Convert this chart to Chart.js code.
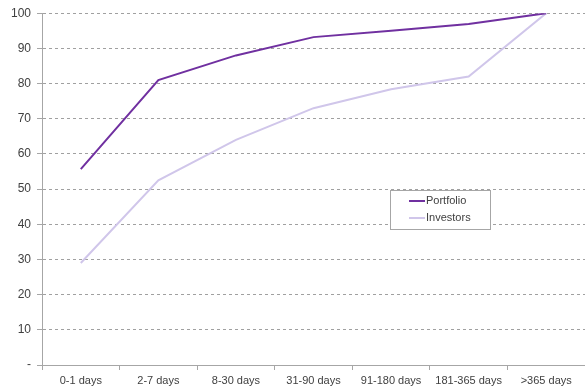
<!DOCTYPE html>
<html>
<head>
<meta charset="utf-8">
<script src="https://cdn.jsdelivr.net/npm/chart.js@4/dist/chart.umd.min.js"></script>
<style>
  html, body { margin: 0; padding: 0; background: #fff; }
  #wrap { width: 585px; height: 390px; position: relative; }
</style>
</head>
<body>
<div id="wrap"><canvas id="c"></canvas></div>
<script>
const categories = ['0-1 days', '2-7 days', '8-30 days', '31-90 days', '91-180 days', '181-365 days', '>365 days'];
const portfolio = [55.7, 81, 88, 93.2, 95, 96.9, 100];
const investors = [29, 52.5, 64, 73, 78.4, 82, 100];
const yTicks = [0, 10, 20, 30, 40, 50, 60, 70, 80, 90, 100];

const boxLegend = {
  id: 'boxLegend',
  afterDraw(chart) {
    const ctx = chart.ctx;
    const x = 390, y = 190, w = 100, h = 39;
    ctx.save();
    ctx.fillStyle = '#fff';
    ctx.fillRect(x, y, w, h);
    ctx.strokeStyle = '#a6a6a6';
    ctx.lineWidth = 1;
    ctx.strokeRect(x + 0.5, y + 0.5, w, h);
    ctx.font = '11px "Liberation Sans", Arial, sans-serif';
    ctx.textBaseline = 'middle';
    chart.data.datasets.forEach((ds, i) => {
      const ly = y + 11 + i * 17;
      ctx.strokeStyle = ds.borderColor;
      ctx.lineWidth = 2;
      ctx.beginPath();
      ctx.moveTo(x + 19, ly);
      ctx.lineTo(x + 35, ly);
      ctx.stroke();
      ctx.fillStyle = '#404040';
      ctx.fillText(ds.label, x + 36, ly);
    });
    ctx.restore();
  }
};

new Chart(document.getElementById('c'), {
  type: 'line',
  data: {
    labels: categories,
    datasets: [
      { label: 'Portfolio', data: portfolio, borderColor: '#7030a0', borderWidth: 2, pointRadius: 0, tension: 0 },
      { label: 'Investors', data: investors, borderColor: '#d0c6ea', borderWidth: 2, pointRadius: 0, tension: 0 }
    ]
  },
  options: {
    responsive: true, maintainAspectRatio: false, animation: false,
    layout: { padding: { top: 13, right: 0, left: 0, bottom: 0 } },
    plugins: { legend: { display: false }, tooltip: { enabled: false } },
    scales: {
      x: {
        offset: true,
        grid: { offset: true, drawOnChartArea: false, drawTicks: true, tickLength: 5, color: '#a6a6a6' },
        border: { color: '#a6a6a6', width: 1 },
        ticks: { color: '#404040', font: { family: '"Liberation Sans", Arial, sans-serif', size: 11 }, padding: 4, maxRotation: 0, autoSkip: false },
        afterFit: s => { s.height = 25; }
      },
      y: {
        min: 0, max: 100,
        afterBuildTicks: s => { s.ticks = yTicks.map(v => ({ value: v })); },
        grid: { color: '#a0a0a0', tickBorderDash: [], tickColor: '#a6a6a6', tickLength: 5 },
        border: { color: '#a6a6a6', width: 1, dash: [3, 3] },
        ticks: { color: '#404040', font: { family: '"Liberation Sans", Arial, sans-serif', size: 12 }, padding: 6,
          callback: v => v === 0 ? '-' : v },
        afterFit: s => { s.width = 42; }
      }
    }
  },
  plugins: [boxLegend]
});
</script>
</body>
</html>
